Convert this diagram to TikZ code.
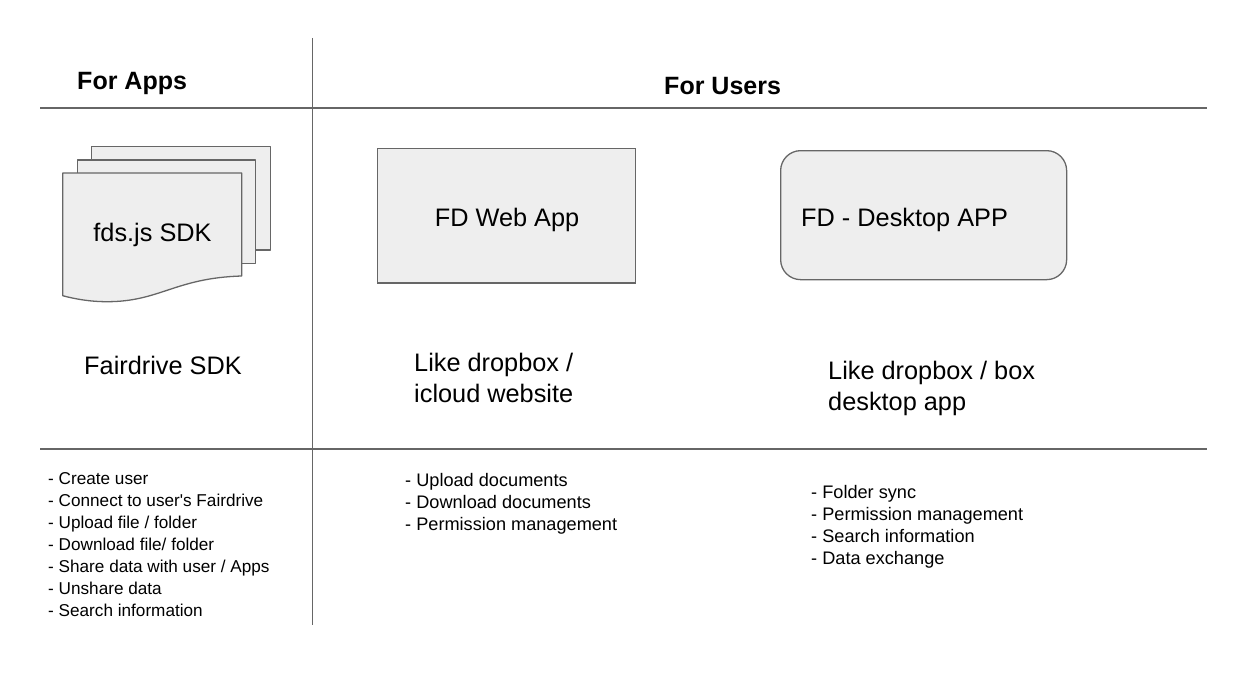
\documentclass[tikz,border=0pt]{standalone}
\usepackage{fontspec}
\setmainfont{Liberation Sans}
\usepackage{xcolor}
\usetikzlibrary{positioning}
\definecolor{boxGray}{HTML}{EEEEEE}
\definecolor{lineGray}{HTML}{666666}
\tikzstyle{tsHeading} = [
    text=black,
    inner sep=0pt,
    font=\fontsize{21.35}{24}\selectfont\bfseries
]
\tikzstyle{tsLabel} = [
    text=black,
    inner sep=0pt,
    align=left,
    font=\fontsize{21.6}{26.4}\selectfont
]
\tikzstyle{tsList} = [
    text=black,
    inner sep=0pt,
    align=left,
    font=\fontsize{14.65}{18.65}\selectfont
]
\tikzstyle{tsListWide} = [
    tsList,
    font=\fontsize{15.5}{18.75}\selectfont
]
\tikzstyle{tsRule} = [
    draw=lineGray,
    line width=1.1pt
]
\tikzstyle{tsBox} = [
    rectangle,
    draw=lineGray,
    fill=boxGray,
    line width=1.1pt
]
\tikzstyle{tsSheet} = [
    draw=lineGray,
    fill=boxGray,
    line width=1.1pt,
    line join=round
]

\begin{document}
\begin{tikzpicture}[x=0.03cm, y=-0.03cm]
        \useasboundingbox (0,0) rectangle (1246,674);

        % Ruling lines of the table
        \coordinate (topRuleL) at (40,108);
        \coordinate (topRuleR) at (1207,108);
        \coordinate (lowRuleL) at (40,449);
        \coordinate (lowRuleR) at (1207,449);
        \coordinate (midRuleT) at (312.5,38);
        \coordinate (midRuleB) at (312.5,625);
        \draw[tsRule] (topRuleL) -- (topRuleR);
        \draw[tsRule] (lowRuleL) -- (lowRuleR);
        \draw[tsRule] (midRuleT) -- (midRuleB);

        % Headings
        \node[tsHeading, anchor=base west] (apps) at (77,90) {For Apps};
        \node[tsHeading, anchor=base west] (users) at (664,94) {For Users};

        % Stack of sheets for the SDK
        \draw[tsSheet] (91.3,146.3) -- (270.7,146.3) -- (270.7,250) -- (91.3,250) -- cycle;
        \draw[tsSheet] (77.3,160) -- (255.3,160) -- (255.3,263.7) -- (77.3,263.7) -- cycle;
        \draw[tsSheet] (62.7,173) -- (241.7,173) -- (241.7,276)
            .. controls (175,278) and (160,301.7) .. (107,301.7)
            .. controls (90,301.7) and (75,299) .. (62.7,295.7) -- cycle;
        \node[tsLabel, anchor=base] (sdk) at (152.5,241) {fds.js SDK};

        % Web and desktop boxes
        \node[tsBox, anchor=north west,
        minimum width=7.74cm, minimum height=4.03cm] (web) at (377,148) {};
        \node[tsLabel, anchor=base] (webText) at (507,226) {FD Web App};

        \node[tsBox, rounded corners=0.6cm, anchor=north west,
        minimum width=8.58cm, minimum height=3.87cm] (desktop) at (780,150) {};
        \node[tsLabel, anchor=base west] (desktopText) at (801,226) {FD - Desktop APP};

        % Captions
        \node[tsLabel, anchor=base west] (sdkCap) at (84,374) {Fairdrive SDK};
        \node[tsLabel, anchor=base west] (webCap) at (414,402) {Like dropbox /\\icloud website};
        \node[tsLabel, anchor=base west] (deskCap) at (828,410) {Like dropbox / box\\desktop app};

        % Feature lists
        \node[tsList, anchor=base west] (sdkList) at (48,616) {- Create user\\- Connect to user\textquotesingle s Fairdrive\\- Upload file / folder\\- Download file/ folder\\- Share data with user / Apps\\- Unshare data\\- Search information};
        \node[tsListWide, anchor=base west] (webList) at (405,530) {- Upload documents\\- Download documents\\- Permission management};
        \node[tsListWide, anchor=base west] (deskList) at (811,564) {- Folder sync\\- Permission management\\- Search information\\- Data exchange};
\end{tikzpicture}
\end{document}
